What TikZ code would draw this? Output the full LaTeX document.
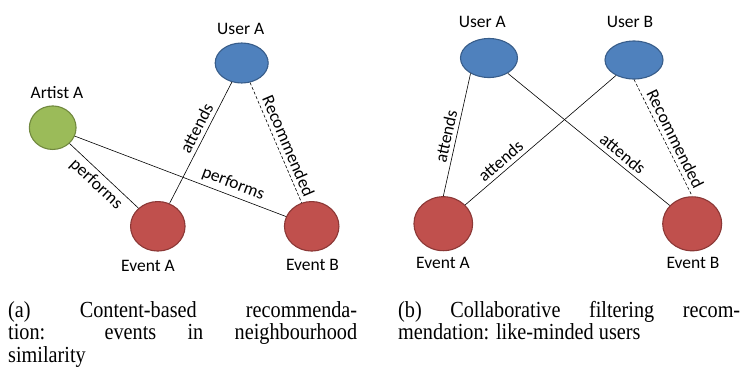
\documentclass[tikz,border=0pt]{standalone}
\usepackage{fontspec}
\usepackage{xcolor}
\setmainfont{Liberation Serif}
\newfontfamily\labelfont{Carlito}
\newfontfamily\capfont[FakeStretch=0.88]{Liberation Serif}
\usetikzlibrary{shapes.geometric}
\usetikzlibrary{positioning}

\definecolor{userblue}{HTML}{4F81BD}
\definecolor{userborder}{HTML}{385D8A}
\definecolor{artistgreen}{HTML}{9BBB59}
\definecolor{artistborder}{HTML}{71893F}
\definecolor{eventred}{HTML}{C0504D}
\definecolor{eventborder}{HTML}{8C3836}

\tikzset{
	entity/.style={ellipse, line width=1.1pt, inner sep=0pt},
	user/.style={entity, fill=userblue, draw=userborder},
	artist/.style={entity, fill=artistgreen, draw=artistborder},
	event/.style={entity, fill=eventred, draw=eventborder},
	tag/.style={font=\labelfont\fontsize{17.5}{19}\selectfont, inner sep=0pt},
	edgelabel/.style={tag, sloped, inner sep=4pt},
	rel/.style={line width=0.6pt},
	recommend/.style={rel, dash pattern=on 3pt off 2pt},
	caption/.style={font=\capfont\fontsize{23}{22.5}\selectfont, align=justify, inner sep=0pt}
}

\begin{document}
\begin{tikzpicture}[x=1pt,y=-1pt]
		\useasboundingbox (0,0) rectangle (742,367);
		% (a) content-based
		\node[user, minimum width=53pt, minimum height=40pt] (ua1) at (241.7,63) {};
		\node[artist, minimum width=46.7pt, minimum height=43.5pt] (art) at (52.7,127.7) {};
		\node[event, minimum width=54.5pt, minimum height=49.5pt] (ea1) at (157.8,226.3) {};
		\node[event, minimum width=54.5pt, minimum height=49.5pt] (eb1) at (311.7,226.3) {};
		\node[tag] (ua1-name) at (240.7,29) {User A};
		\node[tag] (art-name) at (57,93) {Artist A};
		\node[tag] (ea1-name) at (148,265.5) {Event A};
		\node[tag] (eb1-name) at (312.5,265) {Event B};
		\draw[rel] (art) -- node[edgelabel, below, pos=0.5] (perf1) {performs} (ea1);
		\draw[rel] (art) -- node[edgelabel, above, pos=0.73] (perf2) {performs} (eb1);
		\draw[rel] (ea1) -- node[edgelabel, above, pos=0.58] (att1) {attends} (ua1);
		\draw[recommend] (ua1) -- node[edgelabel, above, pos=0.56] (rec1) {Recommended} (eb1);
		% (b) collaborative filtering
		\node[user, minimum width=57pt, minimum height=39pt] (ua2) at (489,58) {};
		\node[user, minimum width=58pt, minimum height=38pt] (ub2) at (634,60) {};
		\node[event, minimum width=58.7pt, minimum height=54pt] (ea2) at (443.3,223.7) {};
		\node[event, minimum width=59pt, minimum height=54pt] (eb2) at (692.2,223.8) {};
		\node[tag] (ua2-name) at (482.3,21.7) {User A};
		\node[tag] (ub2-name) at (630,21.7) {User B};
		\node[tag] (ea2-name) at (443,263) {Event A};
		\node[tag] (eb2-name) at (693,263) {Event B};
		\draw[rel] (ea2.north) -- node[edgelabel, above, pos=0.47] (att2) {attends} (ua2.220);
		\draw[rel] (ea2) -- node[edgelabel, above, pos=0.28] (att3) {attends} (ub2);
		\draw[rel] (ua2) -- node[edgelabel, above, pos=0.67] (att4) {attends} (eb2);
		\draw[recommend] (ub2.south) -- node[edgelabel, above, pos=0.55] (rec2) {Recommended} (eb2.north);
		% captions
		\node[caption, text width=349pt, anchor=north west] (cap-a) at (8,301)
			{(a) Content-based recommenda-\linebreak tion: events in neighbourhood\linebreak similarity};
		\node[caption, text width=342pt, anchor=north west] (cap-b) at (398,301)
			{(b) Collaborative filtering recom-\linebreak mendation: like-minded users};
	\end{tikzpicture}
\end{document}
